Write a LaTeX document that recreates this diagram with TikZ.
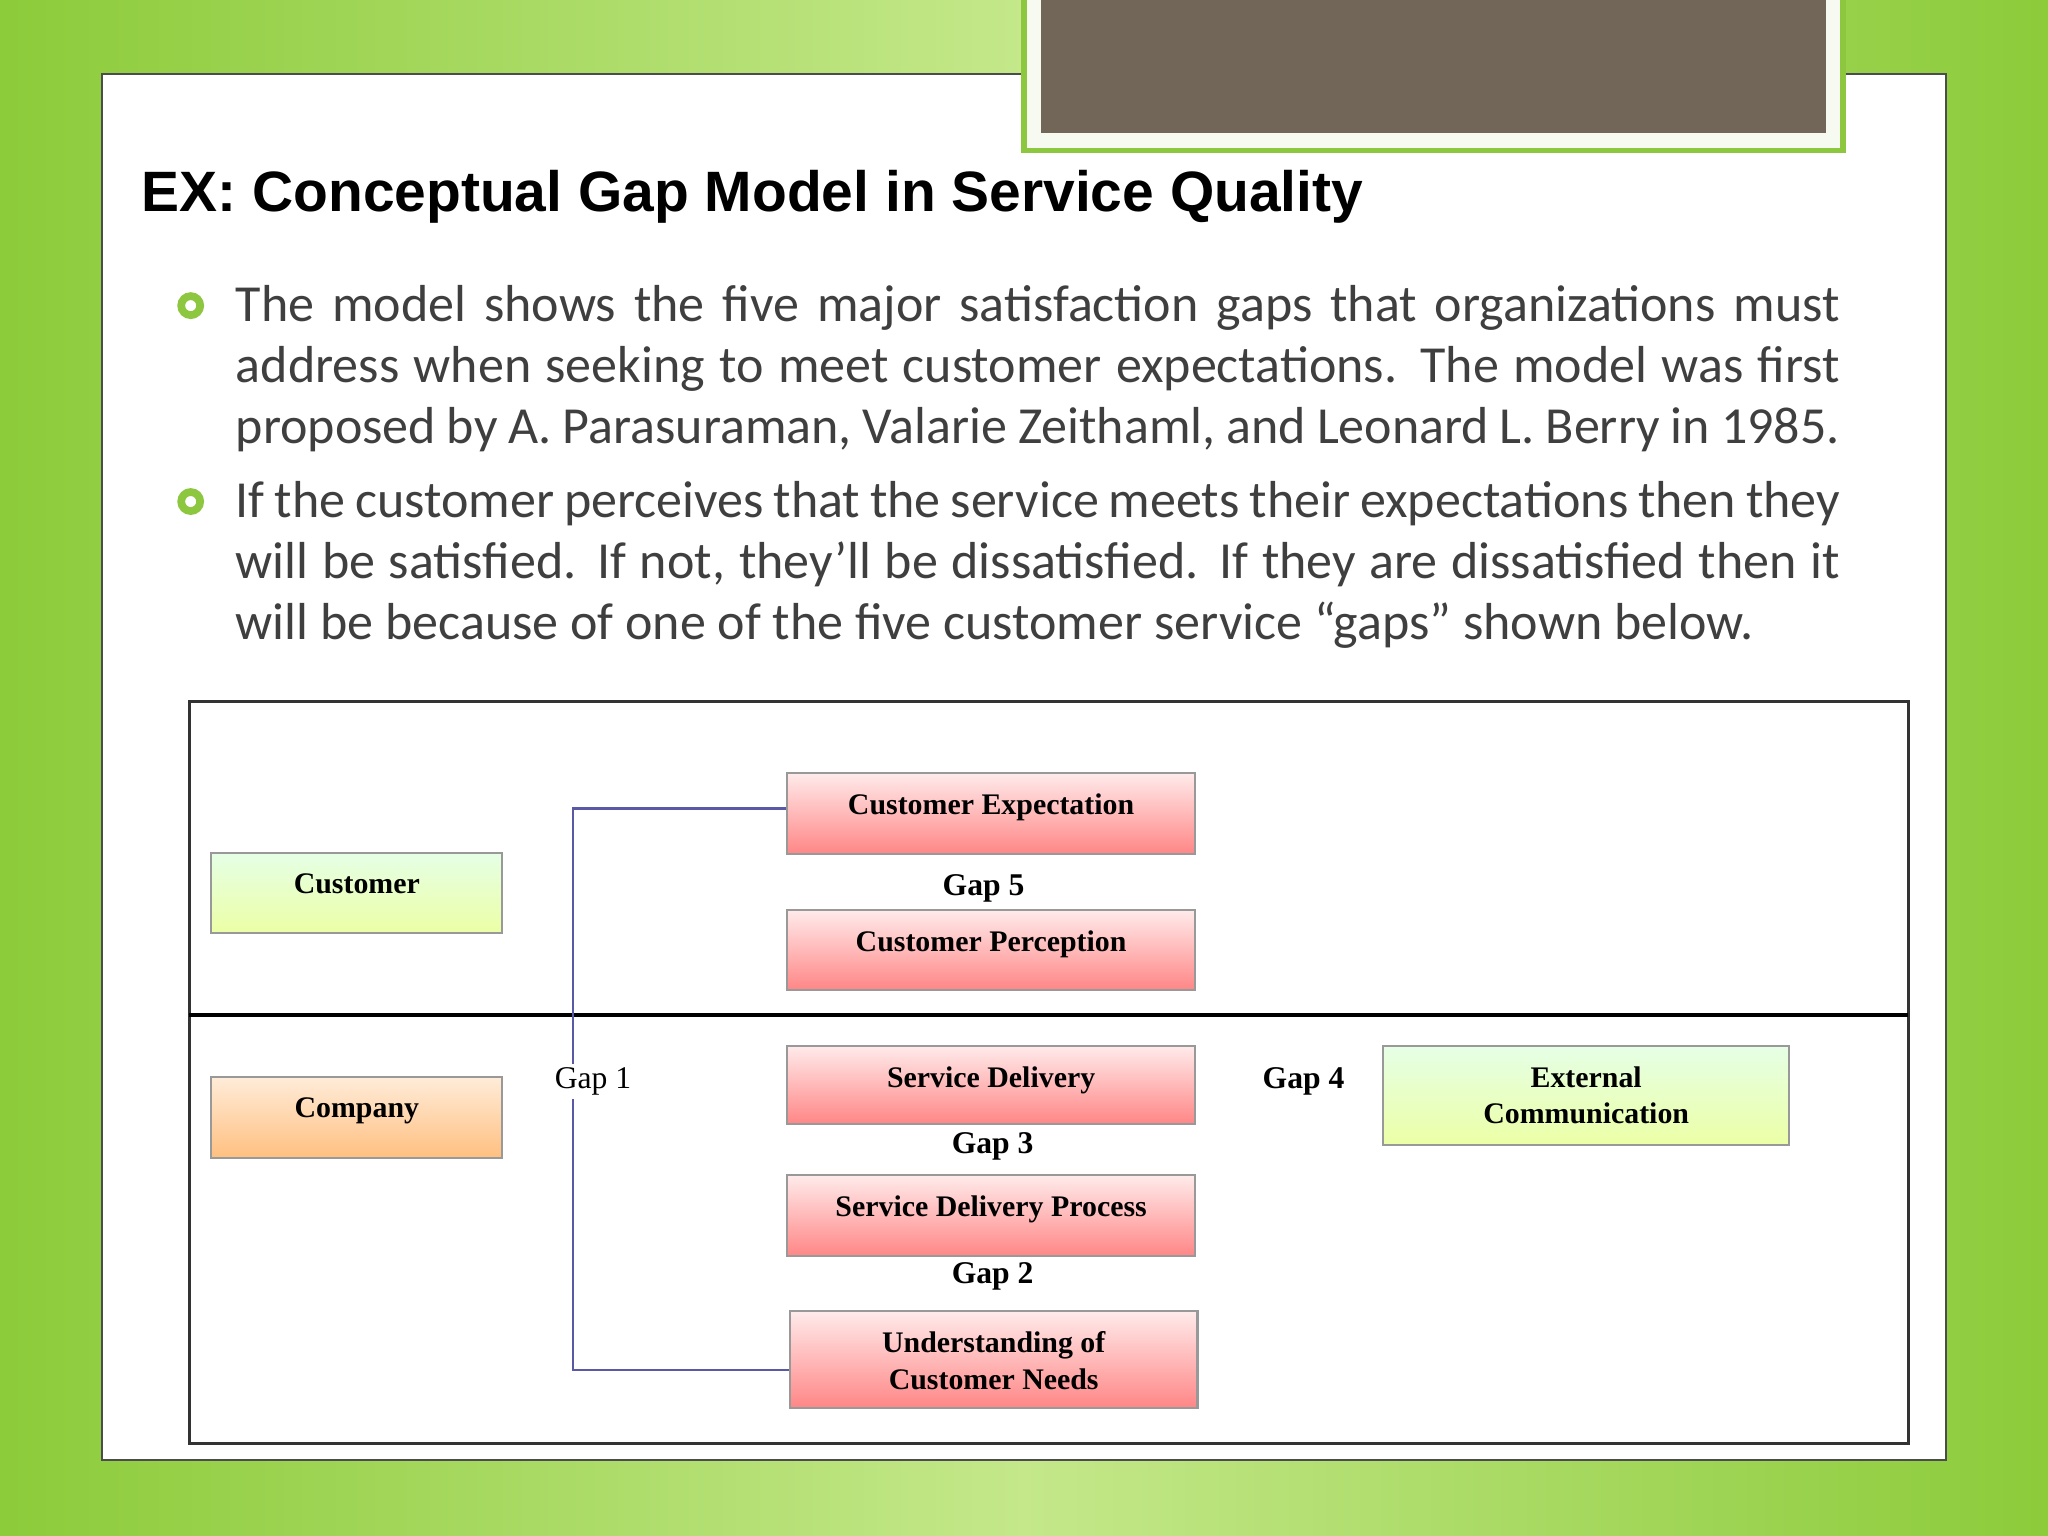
\documentclass[tikz,border=0pt]{standalone}
\usepackage{fontspec}
\setmainfont{Carlito}
\newfontfamily\titlefont{Liberation Sans}
\newfontfamily\dfont{Liberation Serif}
\usetikzlibrary{calc}
\definecolor{bgA}{HTML}{8CCB3A}
\definecolor{bgB}{HTML}{C4E88A}
\definecolor{taupe}{HTML}{726658}
\definecolor{frameG}{HTML}{8DC63F}
\definecolor{txt}{HTML}{3F3F3F}
\tikzset{
  box/.style={draw=black!40, line width=0.6pt, inner sep=0pt, anchor=north west},
  pinkbox/.style={box, minimum width=4.075cm, top color=red!8, bottom color=red!30!pink},
  greenbox/.style={box, top color=white!90!green, bottom color=green!22!yellow!35},
  orangebox/.style={box, top color=orange!15, bottom color=orange!50},
  boxtext/.style={anchor=north, inner sep=0pt, yshift=-6pt, font=\dfont\bfseries\fontsize{8.5}{10.3}\selectfont, align=center},
  gaplbl/.style={font=\dfont\bfseries\fontsize{9}{10}\selectfont},
  bullet/.style={circle, draw=frameG, line width=2.2pt, minimum size=0.19cm, inner sep=0pt},
  body/.style={anchor=north west, text width=16.04cm, align=justify, inner sep=0pt, text=txt, font=\fontsize{14.8}{17.4}\selectfont}
}
\begin{document}
\begin{tikzpicture}[x=0.013061cm,y=-0.013061cm]
\useasboundingbox (0,0) rectangle (1568,1176);
\shade[left color=bgA, right color=bgA, middle color=bgB] (0,0) rectangle (1568,1176);
\fill[white] (78,57) rectangle (1490,1118);
\draw[black!70, line width=0.6pt] (78,57) rectangle (1490,1118);
\fill[frameG] (782,-2) rectangle (1413,117);
\fill[white!92!frameG] (786,-2) rectangle (1409,113);
\fill[taupe] (797,-2) rectangle (1398,102);
\node[anchor=west, inner sep=0pt, font=\titlefont\bfseries\fontsize{16.2}{20}\selectfont] (title) at (108,151) {EX: Conceptual Gap Model in Service Quality};
\node[bullet] (b1) at (146,234) {};
\node[bullet] (b2) at (146,384) {};
\node[body] (t1) at (180,218) {The model shows the five major satisfaction gaps that organizations must\linebreak address when seeking to meet customer expectations. The model was first\linebreak proposed by A. Parasuraman, Valarie Zeithaml, and Leonard L. Berry in 1985.};
\node[body] (t2) at (180,368) {If the customer perceives that the service meets their expectations then they\linebreak will be satisfied. If not, they’ll be dissatisfied. If they are dissatisfied then it\linebreak will be because of one of the five customer service “gaps” shown below.};
% diagram
\draw[black!80, line width=0.8pt] (145,537) rectangle (1461,1105);
\draw[black, line width=1.2pt] (145,777) -- (1461,777);
\node[greenbox, minimum width=2.91cm, minimum height=0.80cm] (cust) at (161,652) {};
\node[boxtext] at (cust.north) {Customer};
\node[orangebox, minimum width=2.91cm, minimum height=0.81cm] (comp) at (161,824) {};
\node[boxtext] at (comp.north) {Company};
\node[pinkbox, minimum height=0.81cm] (ce) at (602,591) {};
\node[boxtext] at (ce.north) {Customer Expectation};
\node[pinkbox, minimum height=0.80cm] (cp) at (602,696) {};
\node[boxtext] at (cp.north) {Customer Perception};
\node[pinkbox, minimum height=0.78cm] (sd) at (602,800) {};
\node[boxtext] at (sd.north) {Service Delivery};
\node[pinkbox, minimum height=0.81cm] (sdp) at (602,899) {};
\node[boxtext] at (sdp.north) {Service Delivery Process};
\node[pinkbox, minimum height=0.97cm] (ucn) at (604,1003) {};
\node[boxtext] at (ucn.north) {Understanding of\\Customer Needs};
\node[greenbox, minimum width=4.065cm, minimum height=0.99cm] (ec) at (1058,800) {};
\node[boxtext] at (ec.north) {External\\Communication};
\coordinate (g1a) at (439,619);
\coordinate (g1b) at (439,1049);
\draw[blue!30!gray, line width=0.6pt] (ce.west |- g1a) -- (g1a) -- (g1b) -- (ucn.west |- g1b);
\node[fill=white, inner sep=1pt, font=\dfont\fontsize{9}{10}\selectfont] (gap1) at (454,828) {Gap 1};
\node[gaplbl] (gap5) at (753,680) {Gap 5};
\node[gaplbl] (gap3) at (760,878) {Gap 3};
\node[gaplbl] (gap2) at (760,977) {Gap 2};
\node[gaplbl] (gap4) at (998,828) {Gap 4};
\end{tikzpicture}
\end{document}
